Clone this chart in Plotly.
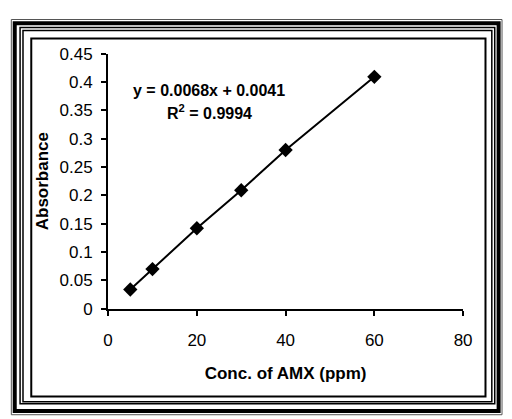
import plotly.graph_objects as go

conc = [5, 10, 20, 30, 40, 60]
absorbance = [0.034, 0.07, 0.142, 0.209, 0.28, 0.409]
eq_text = "y = 0.0068x + 0.0041"
r2_text = "R<sup>2</sup> = 0.9994"
x_title = "Conc. of AMX (ppm)"
y_title = "Absorbance"

W, H = 512, 419
def px(x):
    return x / W
def py(y):
    return 1 - y / H

fig = go.Figure()
fig.add_trace(go.Scatter(
    x=conc, y=absorbance, mode="lines+markers",
    line=dict(color="black", width=2),
    marker=dict(symbol="diamond", size=11, color="black"),
    showlegend=False, cliponaxis=False,
))

fig.update_layout(
    width=W, height=H, autosize=False,
    margin=dict(l=0, r=0, t=0, b=0),
    paper_bgcolor="white", plot_bgcolor="white",
    font=dict(family="Liberation Sans, Arial, sans-serif", size=17, color="black"),
    xaxis=dict(
        domain=[px(106), px(471)], range=[0, 80], dtick=20, tick0=0,
        showline=True, linecolor="black", linewidth=2,
        ticks="outside", ticklen=5, tickwidth=2, tickcolor="black",
        ticklabelstandoff=10,
        showgrid=False, zeroline=False,
        title=dict(text="<b>" + x_title + "</b>", font=dict(size=17), standoff=18),
    ),
    yaxis=dict(
        domain=[py(314), py(46.7)], range=[0, 0.45], dtick=0.05, tick0=0,
        showline=True, linecolor="black", linewidth=2,
        ticks="outside", ticklen=5, tickwidth=2, tickcolor="black",
        ticklabelstandoff=5,
        showgrid=False, zeroline=False,
        title=dict(text="<b>" + y_title + "</b>", font=dict(size=17), standoff=7),
    ),
)

fig.add_annotation(x=px(210), y=py(85), xref="paper", yref="paper",
                   text="<b>" + eq_text + "</b>", showarrow=False,
                   font=dict(size=16), xanchor="center", yanchor="middle")
fig.add_annotation(x=px(210), y=py(108), xref="paper", yref="paper",
                   text="<b>" + r2_text + "</b>", showarrow=False,
                   font=dict(size=16), xanchor="center", yanchor="middle")

frames = [
    (6.5, 11, 511, 425, 1, "#555"),
    (10, 15, 507.5, 421, 4, "black"),
    (15.5, 19.5, 503.5, 413.5, 1.5, "black"),
    (18.5, 22.5, 500.5, 411.5, 1.5, "black"),
    (27, 31, 494, 406, 2, "black"),
]
for x0, y0, x1, y1, w, c in frames:
    fig.add_shape(type="rect", xref="paper", yref="paper",
                  x0=px(x0), x1=px(x1), y0=py(y1), y1=py(y0),
                  line=dict(color=c, width=w), fillcolor="rgba(0,0,0,0)", layer="above")

fig.write_html("out.html", config={"displayModeBar": False},
               post_script="document.body.style.margin='0';document.body.style.overflow='hidden';")
